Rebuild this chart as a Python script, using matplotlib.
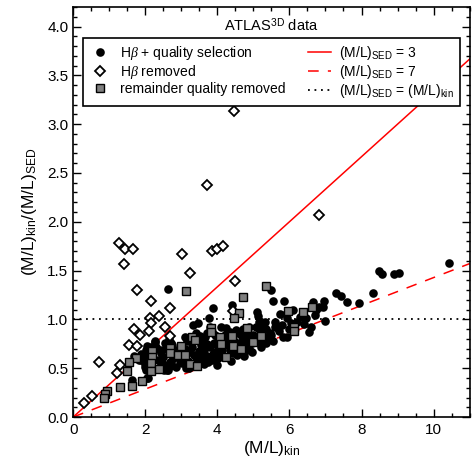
import numpy as np
import matplotlib
matplotlib.use("Agg")
import matplotlib.pyplot as plt
from matplotlib.ticker import MultipleLocator

plt.rcParams["font.family"] = ["Liberation Sans", "DejaVu Sans"]
plt.rcParams["mathtext.fontset"] = "custom"
plt.rcParams["mathtext.rm"] = "Liberation Sans"
plt.rcParams["mathtext.it"] = "Liberation Serif:italic"

# Hbeta + quality selection (black dots)
good_x = [2.64, 3.89, 3.78, 4.41, 5.09, 5.12, 5.15, 5.31, 5.50, 5.54, 5.84, 5.74, 5.91, 5.93,
          6.09, 6.22, 6.46, 6.65, 6.81, 6.92, 6.95, 6.99, 6.60, 6.53, 7.30, 7.44, 7.61, 7.94,
          8.31, 8.48, 8.56, 8.91, 9.03, 10.42, 5.61, 5.59, 5.82, 5.93, 5.54, 5.40, 5.36, 5.45,
          5.25, 5.15,
          1.63, 2.04, 1.97, 1.87, 1.99, 2.03, 2.28, 2.45, 2.52, 2.59, 2.71, 2.96, 3.03, 2.86,
          1.88, 1.94, 2.03, 2.31, 2.40, 2.82, 2.88, 2.71, 2.65, 2.75, 2.96, 3.09, 3.23, 3.42,
          3.40, 3.60, 3.70, 3.56, 3.64, 3.70, 3.42, 3.19, 3.22, 3.57, 3.64, 3.88, 3.97, 4.02,
          4.14, 3.93, 4.02, 4.18, 4.25, 4.34, 4.43, 4.53, 4.57, 4.71, 4.80, 4.89, 4.87, 4.97,
          5.08, 5.22, 4.89, 4.80, 4.25, 4.34, 4.11, 3.79, 3.84, 3.51, 3.09, 3.16, 3.14, 3.75,
          3.99, 4.39, 4.16, 4.59, 4.73, 4.89, 3.32, 3.46,
          2.50, 2.60, 2.78, 2.90, 3.00, 3.10, 3.30, 3.35, 3.50, 3.55, 3.80, 3.90, 4.05, 4.10,
          4.30, 4.45, 4.50, 4.60, 4.65, 4.75, 4.95, 5.00, 5.05, 5.15, 5.30, 5.20, 5.35, 5.50,
          5.70, 5.80, 6.00, 6.05, 6.30, 6.40, 6.70, 6.75, 2.20, 2.35, 2.15, 3.25, 3.65, 3.72,
          4.20, 4.40, 4.55, 4.70, 2.55, 2.45, 2.68, 3.45, 3.85, 4.00,
          2.27, 2.04, 1.70, 1.83, 2.00, 1.99, 2.07, 2.48, 2.55, 2.64, 2.69, 2.58]
good_y = [1.31, 1.12, 1.01, 1.15, 1.08, 1.03, 0.97, 0.97, 1.30, 1.19, 1.19, 1.06, 1.06, 1.01,
          1.10, 0.97, 1.01, 1.18, 1.13, 1.13, 1.19, 0.98, 0.92, 0.87, 1.27, 1.24, 1.18, 1.17,
          1.27, 1.50, 1.46, 1.46, 1.48, 1.58, 0.97, 0.92, 0.82, 0.82, 0.78, 0.80, 0.90, 0.86,
          0.88, 0.90,
          0.38, 0.40, 0.62, 0.58, 0.54, 0.48, 0.78, 0.54, 0.48, 0.48, 0.56, 0.57, 0.55, 0.51,
          0.65, 0.62, 0.69, 0.72, 0.69, 0.65, 0.69, 0.76, 0.80, 0.74, 0.69, 0.70, 0.67, 0.86,
          0.82, 0.77, 0.75, 0.74, 0.69, 0.63, 0.62, 0.57, 0.50, 0.56, 0.54, 0.65, 0.67, 0.60,
          0.69, 0.84, 0.82, 0.77, 0.79, 0.69, 0.66, 0.89, 0.86, 0.80, 0.77, 0.82, 0.69, 0.67,
          0.92, 0.94, 0.92, 0.87, 0.91, 0.87, 0.92, 0.92, 0.87, 0.83, 0.82, 0.78, 0.50, 0.56,
          0.53, 0.57, 0.61, 0.66, 0.63, 0.70, 0.94, 0.96,
          0.62, 0.70, 0.60, 0.62, 0.64, 0.60, 0.72, 0.64, 0.68, 0.62, 0.72, 0.76, 0.72, 0.66,
          0.74, 0.78, 0.72, 0.76, 0.84, 0.72, 0.76, 0.84, 0.80, 0.78, 0.82, 0.72, 0.76, 0.84,
          0.88, 0.94, 0.90, 0.96, 1.02, 0.95, 1.05, 1.10, 0.60, 0.58, 0.72, 0.78, 0.82, 0.86,
          0.84, 0.82, 0.64, 0.90, 0.76, 0.66, 0.52, 0.58, 0.58, 0.74,
          0.77, 0.73, 0.63, 0.58, 0.62, 0.51, 0.40, 0.54, 0.49, 0.48, 0.56, 0.72]

# Hbeta removed (open diamonds)
hb_x = [4.45, 3.71, 6.81, 1.28, 1.45, 1.66, 1.41, 3.02, 3.25, 3.85, 3.99, 4.17, 1.76, 2.15,
        2.68, 4.48, 4.43, 2.13, 2.38, 2.17, 2.56, 1.69, 1.85, 2.10, 1.55, 1.76, 2.69, 0.72,
        1.31, 1.23, 0.53, 0.29]
hb_y = [3.13, 2.38, 2.07, 1.78, 1.72, 1.72, 1.57, 1.67, 1.48, 1.70, 1.72, 1.75, 1.30, 1.19,
        1.12, 1.39, 1.09, 1.01, 1.03, 0.96, 0.92, 0.90, 0.84, 0.88, 0.74, 0.73, 0.83, 0.56,
        0.53, 0.45, 0.22, 0.14]

# remainder quality removed (grey squares)
rq_x = [3.13, 4.71, 5.34, 4.60, 4.45, 3.29, 3.38, 3.82, 3.82, 2.68, 2.68, 2.19, 2.19, 1.74,
        1.55, 1.49, 1.63, 1.29, 0.94, 0.87, 0.86, 1.91, 2.15, 2.15, 2.37, 2.92, 3.10, 3.23,
        3.44, 4.08, 4.09, 4.40, 4.44, 4.67, 4.23, 4.83, 5.00, 5.21, 3.00, 5.97, 6.39, 6.62,
        6.12, 6.14]
rq_y = [1.29, 1.23, 1.34, 1.07, 1.01, 0.82, 0.79, 0.91, 0.87, 0.71, 0.66, 0.68, 0.62, 0.60,
        0.56, 0.47, 0.32, 0.31, 0.27, 0.24, 0.19, 0.37, 0.55, 0.47, 0.49, 0.64, 0.64, 0.54,
        0.52, 0.82, 0.75, 0.83, 0.73, 0.70, 0.62, 0.91, 0.77, 0.83, 0.73, 1.09, 1.08, 1.13,
        0.92, 0.88]

ml_sed = [3, 7]
x_max, y_max = 11.0, 4.2

fig = plt.figure(figsize=(4.72, 4.67), dpi=100)
ax = fig.add_axes([0.155, 0.107, 0.84, 0.878])

ax.plot(good_x, good_y, "o", color="black", ms=6.2, mew=0, zorder=3,
        label=r"H$\it{\beta}$ + quality selection")
ax.plot(hb_x, hb_y, "D", mfc="white", mec="black", mew=1.3, ms=5.2, zorder=4,
        label=r"H$\it{\beta}$ removed")
ax.plot(rq_x, rq_y, "s", mfc="#7f7f7f", mec="black", mew=1.0, ms=5.3, zorder=5,
        label="remainder quality removed")

xl = np.array([0, x_max])
ax.plot(xl, xl / ml_sed[0], "-", color="red", lw=1.1, zorder=2,
        label=r"(M/L)$_{\mathrm{SED}}$ = 3")
ax.plot(xl, xl / ml_sed[1], color="red", lw=1.1, dashes=(7, 6), zorder=2,
        label=r"(M/L)$_{\mathrm{SED}}$ = 7")
ax.plot(xl, [1, 1], color="black", lw=1.3, dashes=(1, 2.6), zorder=2,
        label=r"(M/L)$_{\mathrm{SED}}$ = (M/L)$_{\mathrm{kin}}$")

ax.set_xlim(0, x_max)
ax.set_ylim(0, y_max)
ax.xaxis.set_major_locator(MultipleLocator(2))
ax.xaxis.set_minor_locator(MultipleLocator(0.5))
ax.yaxis.set_major_locator(MultipleLocator(0.5))
ax.yaxis.set_minor_locator(MultipleLocator(0.1))
ax.yaxis.set_major_formatter(matplotlib.ticker.FormatStrFormatter("%.1f"))
ax.tick_params(which="both", direction="in", top=True, right=True, width=1.0,
               labelsize=11)
ax.tick_params(which="major", length=5.5)
ax.tick_params(which="minor", length=3)
ax.tick_params(axis="x", pad=4)
for s in ax.spines.values():
    s.set_linewidth(1.2)

ax.set_xlabel(r"(M/L)$_{\mathrm{kin}}$", fontsize=12.5, labelpad=2)
ax.set_ylabel(r"(M/L)$_{\mathrm{kin}}$/(M/L)$_{\mathrm{SED}}$", fontsize=12.5, labelpad=6)

ax.text(0.5, 0.955, r"ATLAS$^{\mathrm{3D}}$ data", transform=ax.transAxes,
        ha="center", va="center", fontsize=10.5)
leg = ax.legend(loc="upper center", bbox_to_anchor=(0.5, 0.924), ncol=2, fontsize=10,
                frameon=True, fancybox=False, edgecolor="black", framealpha=1,
                handlelength=1.65, handletextpad=0.6, columnspacing=1.6,
                labelspacing=0.08, borderpad=0.42, borderaxespad=0)
leg.get_frame().set_linewidth(1.2)

fig.savefig("out.png", dpi=100)
